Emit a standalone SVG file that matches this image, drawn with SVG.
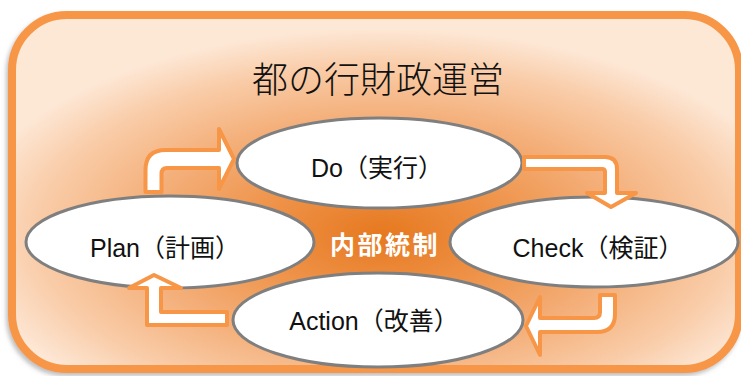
<svg xmlns="http://www.w3.org/2000/svg" width="741" height="376" viewBox="0 0 741 376">
  <defs>
    <radialGradient id="bg" cx="0.51" cy="0.62" r="0.58" gradientUnits="objectBoundingBox">
      <stop offset="0" stop-color="#E6781F"/>
      <stop offset="0.28" stop-color="#EE9146"/>
      <stop offset="0.58" stop-color="#F4B07B"/>
      <stop offset="0.82" stop-color="#F9CCA8"/>
      <stop offset="1" stop-color="#FDE7D5"/>
    </radialGradient>
    <filter id="shadow" x="-5%" y="-5%" width="110%" height="115%">
      <feDropShadow dx="-2" dy="3" stdDeviation="2" flood-color="#808080" flood-opacity="0.5"/>
    </filter>
  </defs>
  <style>
    .node ellipse { fill: #FFFFFF; stroke: #7F7F7F; stroke-width: 3; }
    .lbl { font-family: "Liberation Sans", "Noto Sans CJK JP", sans-serif; font-size: 25px; fill: #111111; text-anchor: middle; }
    .arrow { fill: #FFFFFF; stroke: #F79646; stroke-width: 4; stroke-linejoin: round; }
  </style>

  <g id="frame">
    <rect x="12" y="15" width="727" height="354" rx="55" ry="55" fill="url(#bg)" stroke="#F79646" stroke-width="8" filter="url(#shadow)"/>
    <text x="378" y="93" font-family="'Noto Sans CJK JP', sans-serif" font-size="36" font-weight="300" fill="#111111" text-anchor="middle">都の行財政運営</text>
  </g>

  <text id="center-label" x="385" y="254" font-family="'Noto Sans CJK JP', sans-serif" font-size="25" font-weight="bold" fill="#FFFFFF" text-anchor="middle" letter-spacing="2.5">内部統制</text>

  <g id="node-do" class="node">
    <ellipse cx="379.5" cy="163" rx="142.5" ry="45"/>
    <text class="lbl" x="377" y="177">Do（実行）</text>
  </g>
  <g id="node-plan" class="node">
    <ellipse cx="170" cy="242" rx="144" ry="46"/>
    <text class="lbl" x="165" y="257">Plan（計画）</text>
  </g>
  <g id="node-check" class="node">
    <ellipse cx="594" cy="242" rx="144" ry="45"/>
    <text class="lbl" x="598" y="257">Check（検証）</text>
  </g>
  <g id="node-action" class="node">
    <ellipse cx="378" cy="320" rx="145" ry="47"/>
    <text class="lbl" x="374" y="330">Action（改善）</text>
  </g>

  <g id="connectors">
    <path class="arrow" d="M 145.5 192 L 145.5 170 Q 145.5 150 165.5 150 L 219 150 L 219 129 L 234 159 L 219 189 L 219 168 L 167 168 Q 161.5 168 161.5 174 L 161.5 192 Z"/>
    <path class="arrow" d="M 524 157 L 605 157 Q 617 157 617 169 L 617 193 L 636 193 L 611 207 L 587 193 L 605 193 L 605 172 Q 605 169 602 169 L 524 169 Z"/>
    <path class="arrow" d="M 600 295 L 615 295 L 615 314 Q 615 332 597 332 L 540 332 L 540 355 L 526 326 L 540 297 L 540 318 L 594 318 Q 600 318 600 312 Z"/>
    <path class="arrow" d="M 227 312 L 161 312 L 161 288 L 181 288 L 154 275 L 129 288 L 147 288 L 147 325 L 227 325 Z"/>
  </g>
</svg>
